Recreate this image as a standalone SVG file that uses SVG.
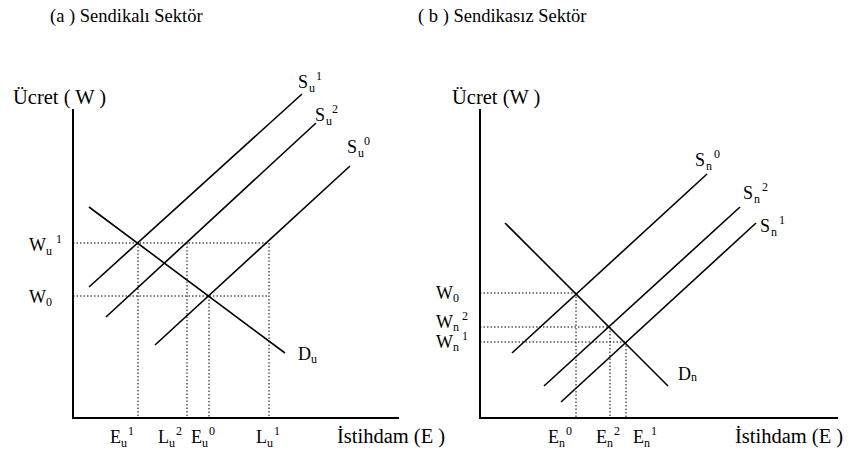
<svg xmlns="http://www.w3.org/2000/svg" width="849" height="451" viewBox="0 0 849 451" font-family="'Liberation Serif', 'DejaVu Serif', serif">
<style>
text{font-family:'Liberation Serif','DejaVu Serif',serif;fill:#000}
.t{font-size:18.5px}
.a{font-size:20.5px}
.m{font-size:18px}
.s{font-size:12px}
.ax{stroke:#000;stroke-width:2;fill:none}
.c{stroke:#000;stroke-width:1.6;fill:none}
.d{stroke:#000;stroke-width:1;stroke-dasharray:1.5 2;fill:none}
</style>
<rect width="849" height="451" fill="#fff"/>
<g id="panel-a">
<text class="t" x="50" y="22">(a ) Sendikalı Sektör</text>
<g id="axes-a"><path class="ax" d="M73,109 V418 H399"/></g>
<text class="a" x="13" y="104">Ücret ( W )</text>
<text class="a" x="337" y="443">İstihdam (E )</text>
<g id="connectors-a">
<path class="d" d="M73,243 H269 M73,296 H269 M138,243 V418 M187,243 V418 M209,296 V418 M269,243 V418"/>
<path id="Su1" class="c" d="M89,287 L302,94"/>
<path id="Su2" class="c" d="M106,317 L316,123"/>
<path id="Su0" class="c" d="M155,345 L350,166"/>
<path id="Du" class="c" d="M89,207 L285,353"/>
</g>
<g id="labels-a">
<text class="m" x="298" y="88">S</text><text class="s" x="309" y="92">u</text><text class="s" x="316" y="80">1</text>
<text class="m" x="315" y="121">S</text><text class="s" x="326" y="125">u</text><text class="s" x="332" y="113">2</text>
<text class="m" x="347" y="153">S</text><text class="s" x="358" y="157">u</text><text class="s" x="364" y="145">0</text>
<text class="m" x="29" y="251">W</text><text class="s" x="46" y="255">u</text><text class="s" x="56" y="243">1</text>
<text class="m" x="29" y="303">W</text><text class="s" x="46" y="306">0</text>
<text class="m" x="298" y="360">D</text><text class="s" x="311" y="363">u</text>
<text class="m" x="110" y="443">E</text><text class="s" x="121" y="447">u</text><text class="s" x="128" y="435">1</text>
<text class="m" x="158" y="443">L</text><text class="s" x="169" y="447">u</text><text class="s" x="176" y="435">2</text>
<text class="m" x="191" y="443">E</text><text class="s" x="202" y="447">u</text><text class="s" x="209" y="435">0</text>
<text class="m" x="256" y="443">L</text><text class="s" x="267" y="447">u</text><text class="s" x="274" y="435">1</text>
</g>
</g>
<g id="panel-b">
<text class="t" x="418" y="22">( b ) Sendikasız Sektör</text>
<g id="axes-b"><path class="ax" d="M480,109 V418 H838"/></g>
<text class="a" x="452" y="104">Ücret (W )</text>
<text class="a" x="735" y="443">İstihdam (E )</text>
<g id="connectors-b">
<path class="d" d="M480,293 H576 M480,327 H610 M480,342 H626 M576,293 V418 M610,327 V418 M626,342 V418"/>
<path id="Sn0" class="c" d="M512,353 L707,174"/>
<path id="Sn2" class="c" d="M544,386 L740,207"/>
<path id="Sn1" class="c" d="M561,402 L756,223"/>
<path id="Dn" class="c" d="M505,223 L668,386"/>
</g>
<g id="labels-b">
<text class="m" x="695" y="166">S</text><text class="s" x="706" y="170">n</text><text class="s" x="714" y="158">0</text>
<text class="m" x="743" y="199">S</text><text class="s" x="754" y="203">n</text><text class="s" x="762" y="191">2</text>
<text class="m" x="760" y="232">S</text><text class="s" x="771" y="236">n</text><text class="s" x="779" y="224">1</text>
<text class="m" x="436" y="299">W</text><text class="s" x="453" y="302">0</text>
<text class="m" x="436" y="328">W</text><text class="s" x="453" y="331">n</text><text class="s" x="462" y="320">2</text>
<text class="m" x="436" y="348">W</text><text class="s" x="453" y="351">n</text><text class="s" x="462" y="340">1</text>
<text class="m" x="678" y="380">D</text><text class="s" x="691" y="381">n</text>
<text class="m" x="548" y="443">E</text><text class="s" x="559" y="447">n</text><text class="s" x="566" y="435">0</text>
<text class="m" x="596" y="443">E</text><text class="s" x="607" y="447">n</text><text class="s" x="614" y="435">2</text>
<text class="m" x="633" y="443">E</text><text class="s" x="644" y="447">n</text><text class="s" x="651" y="435">1</text>
</g>
</g>
</svg>
